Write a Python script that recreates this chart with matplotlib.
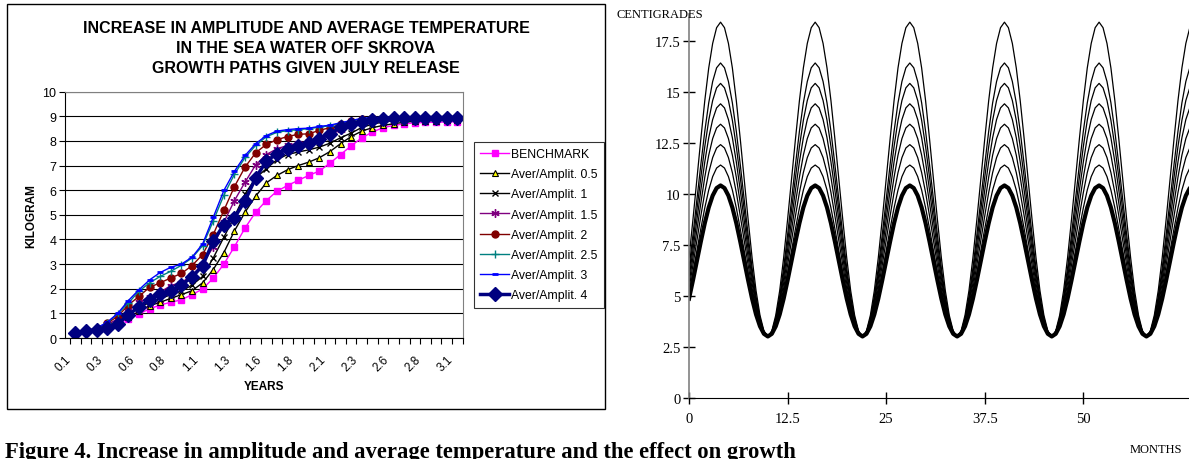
import numpy as np
import matplotlib.pyplot as plt
from matplotlib.patches import Rectangle

# left chart: growth paths, one point per month after July release
years = ['0.1', '0.2', '0.3', '0.3', '0.4', '0.5', '0.6', '0.7', '0.8', '0.8', '0.9', '1.0',
         '1.1', '1.2', '1.3', '1.3', '1.4', '1.5', '1.6', '1.7', '1.8', '1.8', '1.9', '2.0',
         '2.1', '2.2', '2.3', '2.3', '2.4', '2.5', '2.6', '2.7', '2.8', '2.8', '2.9', '3.0', '3.1']

benchmark = [0.18, 0.26, 0.34, 0.45, 0.58, 0.77, 0.98, 1.18, 1.34, 1.45, 1.55, 1.76, 1.99,
             2.43, 3.0, 3.71, 4.47, 5.11, 5.58, 5.96, 6.19, 6.4, 6.6, 6.78, 7.1, 7.45, 7.8,
             8.13, 8.36, 8.54, 8.63, 8.7, 8.73, 8.75, 8.76, 8.77, 8.78]
amp_05 = [0.19, 0.27, 0.35, 0.48, 0.63, 0.84, 1.08, 1.31, 1.45, 1.61, 1.76, 1.92, 2.24,
          2.78, 3.47, 4.35, 5.11, 5.76, 6.3, 6.6, 6.83, 7.0, 7.14, 7.32, 7.57, 7.89, 8.18,
          8.4, 8.54, 8.63, 8.7, 8.76, 8.8, 8.82, 8.83, 8.84, 8.85]
amp_1 = [0.19, 0.27, 0.36, 0.5, 0.68, 0.98, 1.22, 1.45, 1.59, 1.76, 1.9, 2.15, 2.5,
         3.25, 4.09, 4.93, 5.85, 6.5, 6.87, 7.24, 7.45, 7.55, 7.64, 7.75, 7.91, 8.13, 8.32,
         8.55, 8.68, 8.77, 8.83, 8.87, 8.89, 8.9, 8.91, 8.92, 8.92]
amp_15 = [0.19, 0.27, 0.37, 0.55, 0.77, 1.11, 1.45, 1.68, 1.86, 2.13, 2.25, 2.55, 3.0,
          3.7, 4.7, 5.58, 6.33, 7.03, 7.45, 7.68, 7.82, 7.9, 7.98, 8.1, 8.25, 8.45, 8.62,
          8.75, 8.83, 8.88, 8.91, 8.93, 8.94, 8.94, 8.95, 8.95, 8.95]
amp_2 = [0.19, 0.27, 0.38, 0.6, 0.88, 1.34, 1.69, 2.06, 2.24, 2.44, 2.62, 2.94, 3.39,
         4.2, 5.18, 6.15, 6.94, 7.52, 7.86, 8.05, 8.18, 8.27, 8.29, 8.43, 8.54, 8.67, 8.81,
         8.9, 8.93, 8.95, 8.95, 8.96, 8.96, 8.96, 8.96, 8.96, 8.96]
amp_25 = [0.19, 0.27, 0.39, 0.62, 0.98, 1.42, 1.9, 2.24, 2.5, 2.71, 2.95, 3.25, 3.75,
          4.75, 5.8, 6.65, 7.33, 7.82, 8.17, 8.35, 8.42, 8.46, 8.5, 8.56, 8.62, 8.72, 8.82,
          8.9, 8.94, 8.95, 8.96, 8.96, 8.96, 8.96, 8.96, 8.96, 8.96]
amp_3 = [0.2, 0.28, 0.4, 0.64, 1.0, 1.52, 1.96, 2.36, 2.66, 2.87, 3.0, 3.28, 3.82,
         4.9, 5.99, 6.77, 7.41, 7.89, 8.22, 8.4, 8.46, 8.5, 8.52, 8.59, 8.64, 8.74, 8.83,
         8.92, 8.95, 8.96, 8.97, 8.97, 8.97, 8.97, 8.97, 8.97, 8.97]
amp_4 = [0.19, 0.27, 0.34, 0.39, 0.57, 0.93, 1.27, 1.56, 1.79, 1.92, 2.16, 2.47, 2.94,
         3.93, 4.6, 4.88, 5.58, 6.5, 7.18, 7.48, 7.68, 7.79, 7.91, 8.09, 8.29, 8.56, 8.7,
         8.77, 8.85, 8.9, 8.93, 8.94, 8.95, 8.95, 8.95, 8.95, 8.95]

labels = ['BENCHMARK', 'Aver/Amplit. 0.5', 'Aver/Amplit. 1', 'Aver/Amplit. 1.5',
          'Aver/Amplit. 2', 'Aver/Amplit. 2.5', 'Aver/Amplit. 3', 'Aver/Amplit. 4']
values = [benchmark, amp_05, amp_1, amp_15, amp_2, amp_25, amp_3, amp_4]

# right chart: sea temperature, benchmark cycle read every half month (one year)
cycle = [4.85, 5.75, 6.7, 7.65, 8.55, 9.32, 9.9, 10.27, 10.4, 10.27, 9.9, 9.32,
         8.55, 7.65, 6.7, 5.75, 4.85, 4.08, 3.5, 3.13, 3.0, 3.13, 3.5, 4.08]
peaks = [10.4, 11.4, 12.4, 13.4, 14.4, 15.4, 16.4, 18.4]
trough = 3.0

styles = [
    dict(color='#ff00ff', marker='s', ms=4, mfc='#ff00ff', mec='#ff00ff', lw=1),
    dict(color='black', marker='^', ms=5, mfc='#ffff00', mec='black', mew=0.8, lw=1),
    dict(color='black', marker='x', ms=5, mew=1, lw=1),
    dict(color='#800080', marker=(6, 2, 0), ms=6, mew=1, lw=1),
    dict(color='#800000', marker='o', ms=5, mfc='#800000', mec='#800000', lw=1),
    dict(color='#008080', marker='+', ms=6, mew=1, lw=1),
    dict(color='#0000ff', marker='_', ms=4, mew=2, lw=1),
    dict(color='#000080', marker='D', ms=7, mfc='#000080', mec='#000080', lw=2.5),
]

fig = plt.figure(figsize=(11.89, 4.6), dpi=100)
W, H = 1189, 460

def box(l, t, r, b):
    return [l / W, (H - b) / H, (r - l) / W, (b - t) / H]

# frame of the left chart
fig.patches.append(Rectangle((7 / W, (H - 410) / H), 598 / W, 405 / H,
                             transform=fig.transFigure, fill=False, ec='black', lw=1))

ax = fig.add_axes(box(64.7, 92.7, 462.6, 339))
x = np.arange(len(years))
for lab, v, st in zip(labels, values, styles):
    ax.plot(x, v, label=lab, **st)

ax.set_xlim(-0.5, len(years) - 0.5)
ax.set_ylim(0, 10)
ax.set_yticks(range(0, 11))
ax.grid(axis='y', color='black', lw=0.8)
ax.set_axisbelow(True)
# rotated labels every third month, nudged so they end just left of the category
ax.set_xticks(x[::3] - 1.0)
ax.set_xticklabels(years[::3], rotation=45, ha='right', rotation_mode='anchor',
                   family='Liberation Sans', fontsize=8.5)
ax.set_xticks(np.arange(-0.5, len(years)), minor=True)
ax.tick_params(axis='x', which='major', length=0, pad=11)
ax.tick_params(axis='x', which='minor', length=4, width=0.8)
ax.tick_params(axis='y', length=4, width=0.8, labelsize=9, pad=2)
for t in ax.get_yticklabels():
    t.set_family('Liberation Sans')
for s in ['top', 'right']:
    ax.spines[s].set_color('#808080')
for s in ['left', 'bottom']:
    ax.spines[s].set_color('black')
ax.set_ylabel('KILOGRAM', family='Liberation Sans', fontweight='bold', fontsize=8.5, labelpad=4)
ax.set_xlabel('YEARS', family='Liberation Sans', fontweight='bold', fontsize=8.5, labelpad=5)

fig.text(306 / W, (H - 21) / H,
         'INCREASE IN AMPLITUDE AND AVERAGE TEMPERATURE\nIN THE SEA WATER OFF SKROVA\n'
         'GROWTH PATHS GIVEN JULY RELEASE',
         ha='center', va='top', family='Liberation Sans', fontweight='bold',
         fontsize=11.5, linespacing=1.42)

leg = ax.legend(loc='upper left', bbox_to_anchor=(474 / W, (H - 143) / H),
                bbox_transform=fig.transFigure, borderaxespad=0, frameon=True,
                fancybox=False, edgecolor='black', handlelength=2.4, handletextpad=0.15,
                labelspacing=0.67, borderpad=0.5, prop=dict(family='Liberation Sans', size=8.8))
leg.get_frame().set_linewidth(0.8)

# right chart
ax2 = fig.add_axes(box(689, 15, 1189, 398.7))
months = np.arange(0, 64.5, 0.5)
base = np.resize(cycle, months.size)
for p in peaks[::-1]:
    curve = trough + (p - trough) * (base - trough) / (peaks[0] - trough)
    ax2.plot(months, curve, color='black', lw=3 if p == peaks[0] else 0.9)

ax2.set_xlim(0, 63.4)
ax2.set_ylim(0, 18.8)
ax2.set_xticks([0, 12.5, 25, 37.5, 50])
ax2.set_xticklabels(['0', '12.5', '25', '37.5', '50'])
ax2.set_yticks([0, 2.5, 5, 7.5, 10, 12.5, 15, 17.5])
ax2.set_yticklabels(['0', '2.5', '5', '7.5', '10', '12.5', '15', '17.5'])
ax2.tick_params(direction='inout', length=8, width=1, labelsize=10.5)
ax2.tick_params(axis='x', pad=6)
ax2.tick_params(axis='y', pad=2)
for t in ax2.get_xticklabels() + ax2.get_yticklabels():
    t.set_family('Liberation Serif')
for s in ['top', 'right']:
    ax2.spines[s].set_visible(False)
ax2.spines['left'].set_color('#808080')
ax2.spines['left'].set_linewidth(1.2)
ax2.spines['bottom'].set_color('black')

fig.text(660 / W, (H - 15) / H, 'CENTIGRADES', ha='center', va='center',
         family='Liberation Serif', fontsize=9)
fig.text(1156 / W, (H - 450) / H, 'MONTHS', ha='center', va='center',
         family='Liberation Serif', fontsize=9)

fig.text(5 / W, (H - 458) / H,
         'Figure 4. Increase in amplitude and average temperature and the effect on growth',
         ha='left', va='baseline', family='Liberation Serif', fontweight='bold', fontsize=16.3)

fig.savefig('out.png', dpi=100)
